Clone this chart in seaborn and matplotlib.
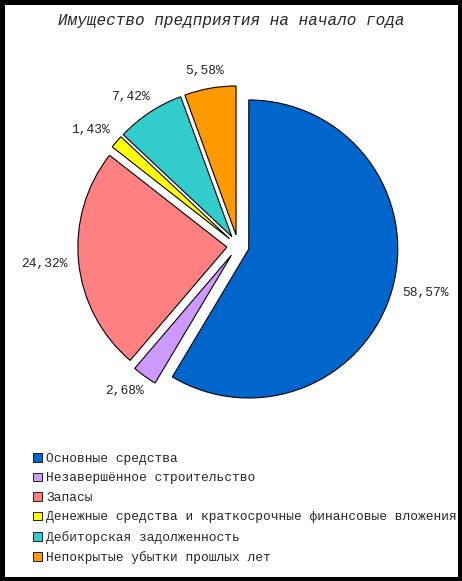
"""Pie chart: enterprise assets at the start of the year."""

import numpy as np
import matplotlib.pyplot as plt
import seaborn as sns
from matplotlib.patches import Patch

categories = [
    "Основные средства",
    "Незавершённое строительство",
    "Запасы",
    "Денежные средства и краткосрочные финансовые вложения",
    "Дебиторская задолженность",
    "Непокрытые убытки прошлых лет",
]
shares = [58.57, 2.68, 24.32, 1.43, 7.42, 5.58]
colors = ["#0066CC", "#CC99FF", "#FF8080", "#FFFF00", "#33CCCC", "#FF9900"]

sns.set_theme(style="white")
plt.rcParams["font.family"] = ["Liberation Mono", "DejaVu Sans Mono"]

W, H = 462, 581
fig = plt.figure(figsize=(W / 100, H / 100), dpi=100)
fig.patch.set_facecolor("white")
fig.patches.append(plt.Rectangle((0, 0), 1, 1, transform=fig.transFigure,
                                 fill=False, edgecolor="black", linewidth=6.5))

# pie axes: map pixels -> data units (149 px per radius)
cx, cy, R = 238, 246, 149
top, bottom = 40, 440
ax = fig.add_axes([0, 1 - bottom / H, 1, (bottom - top) / H])
wedges, _, pcts = ax.pie(
    shares,
    colors=colors,
    startangle=90,
    counterclock=False,
    explode=[0.075] * len(shares),
    autopct=lambda p: f"{p:.2f}%".replace(".", ","),
    textprops={"fontsize": 9.3, "color": "#222222"},
    wedgeprops={"edgecolor": "black", "linewidth": 0.8},
)
# labels sit on a slightly wider-than-tall ring around each wedge
for w, t in zip(wedges, pcts):
    mid = np.deg2rad((w.theta1 + w.theta2) / 2)
    x0, y0 = w.center
    t.set_position((x0 + 1.23 * w.r * np.cos(mid), y0 + 1.12 * w.r * np.sin(mid)))

ax.set_xlim(-cx / R, (W - cx) / R)
ax.set_ylim(-(bottom - cy) / R, (cy - top) / R)
ax.set_aspect("auto")
ax.axis("off")

fig.text(231 / W, 1 - 20 / H, "Имущество предприятия на начало года",
         ha="center", va="center", fontsize=11.5, style="italic")

handles = [Patch(facecolor=c, edgecolor="black", linewidth=0.6) for c in colors]
fig.legend(handles, categories, loc="upper left", bbox_to_anchor=(27 / W, 1 - 446.5 / H),
           frameon=False, fontsize=9.3, handlelength=0.65, handleheight=0.65,
           handletextpad=0.35, labelspacing=0.58, borderpad=0)

fig.savefig("out.png", dpi=100, facecolor="white")
